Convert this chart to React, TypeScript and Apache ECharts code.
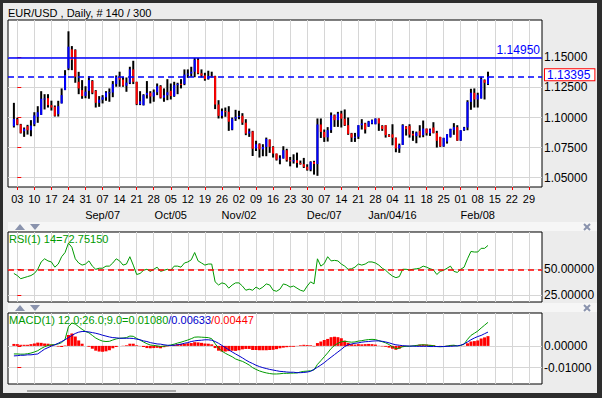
import React, { useEffect, useRef } from "react";
import * as echarts from "echarts";

// First bar is Fri Jul 31 2015; index 0 = Mon Aug 03 2015 (5 trading days per week)
const START_INDEX = -1;

const opens = [
  1.0928, 1.0986, 1.0942, 1.0886, 1.0928, 1.0894, 1.0944, 1.1006, 1.1022, 1.1150,
  1.1161, 1.1103, 1.1089, 1.1028, 1.1117, 1.1228, 1.1408, 1.1567, 1.1561, 1.1297,
  1.1228, 1.1180, 1.1222, 1.1303, 1.1222, 1.1122, 1.1148, 1.1168, 1.1208, 1.1208,
  1.1278, 1.1338, 1.1315, 1.1265, 1.1290, 1.1400, 1.1297, 1.1111, 1.1103, 1.1186,
  1.1205, 1.1175, 1.1210, 1.1260, 1.1165, 1.1185, 1.1222, 1.1178, 1.1269, 1.1280,
  1.1278, 1.1357, 1.1365, 1.1381, 1.1480, 1.1367, 1.1350, 1.1320, 1.1346, 1.1343,
  1.1108, 1.1014, 1.1053, 1.1048, 1.0900, 1.0990, 1.1005, 1.1014, 1.0957, 1.0867,
  1.0884, 1.0742, 1.0778, 1.0735, 1.0755, 1.0817, 1.0756, 1.0700, 1.0650, 1.0660,
  1.0728, 1.0645, 1.0635, 1.0645, 1.0622, 1.0612, 1.0590, 1.0566, 1.0631, 1.0613,
  1.0942, 1.0880, 1.0835, 1.0895, 1.1019, 1.0978, 1.1033, 1.0990, 1.0936, 1.0867,
  1.0833, 1.0840, 1.0936, 1.0950, 1.0925, 1.0950, 1.0944, 1.0992, 1.0930, 1.0936,
  1.0855, 1.0860, 1.0832, 1.0742, 1.0772, 1.0925, 1.0930, 1.0865, 1.0845, 1.0889,
  1.0853, 1.0908, 1.0869, 1.0917, 1.0872, 1.0839, 1.0760, 1.0800, 1.0839, 1.0895,
  1.0920, 1.0808, 1.0894, 1.0917, 1.1130, 1.1206, 1.1150, 1.1158, 1.1311, 1.1278,
];
const highs = [
  1.1122, 1.0997, 1.0947, 1.0917, 1.0939, 1.0978, 1.1044, 1.1094, 1.1219, 1.1194,
  1.1194, 1.1140, 1.1100, 1.1139, 1.1242, 1.1394, 1.1717, 1.1594, 1.1567, 1.1380,
  1.1311, 1.1260, 1.1344, 1.1311, 1.1228, 1.1178, 1.1186, 1.1219, 1.1242, 1.1303,
  1.1350, 1.1381, 1.1339, 1.1333, 1.1422, 1.1472, 1.1297, 1.1219, 1.1194, 1.1303,
  1.1219, 1.1233, 1.1283, 1.1269, 1.1242, 1.1319, 1.1283, 1.1297, 1.1289, 1.1319,
  1.1400, 1.1400, 1.1422, 1.1495, 1.1495, 1.1400, 1.1372, 1.1389, 1.1381, 1.1347,
  1.1144, 1.1075, 1.1083, 1.1094, 1.1000, 1.1064, 1.1056, 1.1036, 1.0986, 1.0908,
  1.0889, 1.0806, 1.0785, 1.0778, 1.0833, 1.0817, 1.0761, 1.0700, 1.0686, 1.0761,
  1.0740, 1.0672, 1.0694, 1.0708, 1.0642, 1.0664, 1.0611, 1.0636, 1.0640, 1.0992,
  1.0992, 1.0900, 1.0920, 1.1042, 1.1025, 1.1047, 1.1056, 1.1067, 1.1000, 1.0872,
  1.0872, 1.0936, 1.0986, 1.0956, 1.0972, 1.0983, 1.0992, 1.0992, 1.0936, 1.0936,
  1.0861, 1.0944, 1.0833, 1.0783, 1.0944, 1.0928, 1.0944, 1.0889, 1.0883, 1.0936,
  1.0975, 1.0908, 1.0908, 1.0961, 1.0889, 1.0839, 1.0831, 1.0861, 1.0906, 1.0953,
  1.0936, 1.0894, 1.0922, 1.1144, 1.1239, 1.1242, 1.1206, 1.1339, 1.1317, 1.1381,
];
const lows = [
  1.0917, 1.0936, 1.0867, 1.0839, 1.0858, 1.0844, 1.0928, 1.0956, 1.1022, 1.1067,
  1.1083, 1.1058, 1.1008, 1.1008, 1.1117, 1.1228, 1.1394, 1.1394, 1.1289, 1.1194,
  1.1156, 1.1160, 1.1156, 1.1194, 1.1083, 1.1089, 1.1117, 1.1139, 1.1131, 1.1169,
  1.1256, 1.1256, 1.1256, 1.1214, 1.1278, 1.1278, 1.1103, 1.1103, 1.1100, 1.1158,
  1.1117, 1.1131, 1.1186, 1.1158, 1.1131, 1.1144, 1.1150, 1.1172, 1.1194, 1.1242,
  1.1269, 1.1330, 1.1339, 1.1335, 1.1360, 1.1333, 1.1306, 1.1315, 1.1333, 1.1070,
  1.0992, 1.0992, 1.1006, 1.0889, 1.0894, 1.0972, 1.0986, 1.0939, 1.0853, 1.0839,
  1.0680, 1.0722, 1.0667, 1.0678, 1.0678, 1.0706, 1.0667, 1.0642, 1.0611, 1.0658,
  1.0633, 1.0594, 1.0617, 1.0583, 1.0608, 1.0580, 1.0558, 1.0553, 1.0525, 1.0515,
  1.0830, 1.0797, 1.0800, 1.0872, 1.0922, 1.0922, 1.0917, 1.0930, 1.0856, 1.0797,
  1.0797, 1.0822, 1.0900, 1.0867, 1.0922, 1.0944, 1.0944, 1.0889, 1.0889, 1.0833,
  1.0839, 1.0769, 1.0711, 1.0706, 1.0772, 1.0850, 1.0833, 1.0806, 1.0786, 1.0833,
  1.0836, 1.0850, 1.0847, 1.0868, 1.0750, 1.0756, 1.0756, 1.0783, 1.0833, 1.0856,
  1.0806, 1.0806, 1.0889, 1.0894, 1.1064, 1.1083, 1.1083, 1.1158, 1.1150, 1.1270,
];
const closes = [
  1.0989, 1.0942, 1.0872, 1.0906, 1.0894, 1.0933, 1.1017, 1.1044, 1.1156, 1.1158,
  1.1103, 1.1083, 1.1014, 1.1094, 1.1186, 1.1353, 1.1589, 1.1478, 1.1339, 1.1242,
  1.1178, 1.1215, 1.1311, 1.1206, 1.1122, 1.1148, 1.1168, 1.1208, 1.1210, 1.1278,
  1.1338, 1.1315, 1.1265, 1.1290, 1.1400, 1.1297, 1.1111, 1.1135, 1.1186, 1.1205,
  1.1175, 1.1210, 1.1260, 1.1165, 1.1185, 1.1210, 1.1178, 1.1269, 1.1280, 1.1278,
  1.1357, 1.1365, 1.1381, 1.1480, 1.1367, 1.1350, 1.1320, 1.1346, 1.1343, 1.1108,
  1.1014, 1.1053, 1.1048, 1.0965, 1.0990, 1.1005, 1.1014, 1.0957, 1.0867, 1.0884,
  1.0740, 1.0778, 1.0735, 1.0755, 1.0822, 1.0756, 1.0700, 1.0650, 1.0660, 1.0728,
  1.0645, 1.0635, 1.0645, 1.0622, 1.0612, 1.0590, 1.0566, 1.0631, 1.0613, 1.0942,
  1.0880, 1.0835, 1.0895, 1.1019, 1.0978, 1.1033, 1.0990, 1.0936, 1.0864, 1.0833,
  1.0840, 1.0936, 1.0950, 1.0900, 1.0967, 1.0978, 1.0992, 1.0950, 1.0905, 1.0853,
  1.0840, 1.0832, 1.0742, 1.0772, 1.0936, 1.0903, 1.0858, 1.0850, 1.0875, 1.0850,
  1.0908, 1.0869, 1.0900, 1.0872, 1.0806, 1.0760, 1.0831, 1.0861, 1.0906, 1.0920,
  1.0808, 1.0894, 1.0917, 1.1130, 1.1206, 1.1150, 1.1190, 1.1320, 1.1289, 1.13395,
];

const rsiValues = [
  46, 44, 41, 42, 43, 44, 46, 50, 57, 60,
  58, 57, 52, 55, 62, 66, 75, 71, 60, 56,
  54, 55, 58, 53, 50, 51, 51, 53, 53, 56,
  60, 58, 54, 55, 62, 54, 45, 46, 49, 50,
  48, 50, 52, 48, 49, 50, 49, 53, 53, 52,
  56, 57, 59, 66, 58, 56, 54, 55, 55, 38,
  35, 37, 36, 32, 35, 37, 37, 34, 30, 31,
  30, 33, 31, 33, 36, 35, 30, 29, 31, 36,
  35, 33, 34, 32, 30, 29, 34, 38, 36, 60,
  53, 55.5, 62, 58, 58.5, 58, 55, 53, 50, 50.5,
  52, 55, 54, 55, 57, 57, 56, 54, 51, 49,
  46, 43.5, 42, 43, 50, 50, 49.3, 50, 50.5, 51,
  53, 52, 50.5, 49.5, 45, 48, 49, 51, 53, 48,
  47, 50, 52, 60, 67, 66.5, 66.5, 70, 70, 72.7515,
];

const macdValues = [
  -0.0037, -0.0037, -0.0038, -0.0038, -0.0036, -0.0033, -0.0028, -0.0022, -0.0012, -0.0004,
  0.0002, 0.0005, 0.0006, 0.0009, 0.0015, 0.0030, 0.0088, 0.0105, 0.0100, 0.0088,
  0.0076, 0.0066, 0.0060, 0.0048, 0.0036, 0.0028, 0.0022, 0.0020, 0.0021, 0.0027,
  0.0032, 0.0035, 0.0036, 0.0038, 0.0045, 0.0044, 0.0034, 0.0027, 0.0018, 0.0010,
  0.0004, 0.0002, 0.0000, -0.0003, -0.0001, 0.0001, 0.0004, 0.0008, 0.0013, 0.0017,
  0.0022, 0.0027, 0.0033, 0.0040, 0.0041, 0.0040, 0.0039, 0.0038, 0.0033, 0.0010,
  -0.0010, -0.0024, -0.0034, -0.0042, -0.0050, -0.0060, -0.0066, -0.0071, -0.0079, -0.0088,
  -0.0100, -0.0108, -0.0115, -0.0120, -0.0124, -0.0127, -0.0129, -0.0129, -0.0128, -0.0126,
  -0.0126, -0.0125, -0.0125, -0.0124, -0.0120, -0.0117, -0.0116, -0.0114, -0.0110, -0.0085,
  -0.0068, -0.0050, -0.0032, -0.0012, 0.0002, 0.0012, 0.0019, 0.0021, 0.0019, 0.0017,
  0.0018, 0.0022, 0.0024, 0.0027, 0.0029, 0.0030, 0.0029, 0.0024, 0.0019, 0.0014,
  0.0006, -0.0004, -0.0013, -0.0010, -0.0004, -0.0002, -0.0002, 0.0000, 0.0002, 0.0004,
  0.0005, 0.0004, 0.0002, 0.0001, -0.0003, -0.0004, -0.0003, -0.0001, 0.0002, 0.0003,
  0.0000, 0.0002, 0.0008, 0.0030, 0.0048, 0.0058, 0.0068, 0.0082, 0.0095, 0.0108,
];

const signalValues = [
  -0.0046, -0.0045, -0.0043, -0.0043, -0.0041, -0.0041, -0.0039, -0.0037, -0.0026, -0.0015,
  -0.0008, -0.0001, 0.0005, 0.0012, 0.0020, 0.0028, 0.0038, 0.0048, 0.0057, 0.0063,
  0.0066, 0.0066, 0.0064, 0.0061, 0.0058, 0.0054, 0.0049, 0.0045, 0.0041, 0.0038,
  0.0037, 0.0035, 0.0035, 0.0035, 0.0035, 0.0034, 0.0031, 0.0028, 0.0023, 0.0020,
  0.0015, 0.0012, 0.0009, 0.0008, 0.0005, 0.0003, 0.0002, 0.0003, 0.0005, 0.0008,
  0.0012, 0.0015, 0.0020, 0.0023, 0.0025, 0.0026, 0.0028, 0.0028, 0.0026, 0.0020,
  0.0012, 0.0002, -0.0008, -0.0018, -0.0028, -0.0037, -0.0046, -0.0055, -0.0065, -0.0074,
  -0.0081, -0.0089, -0.0095, -0.0100, -0.0104, -0.0108, -0.0111, -0.0114, -0.0117, -0.0118,
  -0.0120, -0.0121, -0.0121, -0.0123, -0.0123, -0.0122, -0.0120, -0.0117, -0.0108, -0.0098,
  -0.0088, -0.0077, -0.0064, -0.0052, -0.0040, -0.0028, -0.0016, -0.0003, 0.0005, 0.0009,
  0.0012, 0.0014, 0.0017, 0.0019, 0.0020, 0.0022, 0.0023, 0.0023, 0.0021, 0.0018,
  0.0014, 0.0009, 0.0005, 0.0003, 0.0001, 0.0000, -0.0001, -0.0001, -0.0002, -0.0002,
  -0.0002, -0.0002, -0.0003, -0.0003, -0.0003, -0.0003, -0.0003, -0.0002, -0.0002, -0.0001,
  0.0000, 0.0003, 0.0009, 0.0018, 0.0028, 0.0036, 0.0043, 0.0048, 0.0056, 0.00633,
];

const weekLabels = [
  "03", "10", "17", "24", "31", "07", "14", "21", "28", "05", "12", "19", "26", "02", "09",
  "16", "23", "30", "07", "14", "21", "28", "04", "11", "18", "25", "01", "08", "15", "22", "29",
];
const monthWeeks = [5, 9, 13, 18, 22, 27];
const monthLabels = ["Sep/07", "Oct/05", "Nov/02", "Dec/07", "Jan/04/16", "Feb/08"];

const priceTicks = [1.05, 1.075, 1.1, 1.125, 1.15];
const rsiTicks = [25, 50];
const macdTicks = [-0.01, 0];

const resistanceLevel = 1.1495;
const lastClose = 1.13395;
const rsiLast = 72.7515;
const rsiMid = 50;
const macdLast = 0.0108;
const signalLast = 0.00633;
const histLast = 0.00447;

const DAYS_PER_WEEK = 5;
const X_MIN = -2.727;
const X_MAX = 153.84;

const FONT = "Liberation Sans";
const UP = "#0000ff";
const DOWN = "#ff0000";
const GRID_LINE = "#d6d6d6";
const GREEN = "#009a00";
const AXIS_FONT_SIZE = 12;

function App() {
  const ref = useRef<HTMLDivElement>(null);

  useEffect(() => {
    if (!ref.current) return;
    const chart = echarts.init(ref.current, undefined, { renderer: "svg" });

    const idxOf = (i: number) => START_INDEX + i;
    const candleData = opens.map((o, i) => [idxOf(i), o, closes[i], lows[i], highs[i]]);
    const rsiData = rsiValues.map((v, i) => [idxOf(i), v]);
    const macdData = macdValues.map((v, i) => [idxOf(i), v]);
    const signalData = signalValues.map((v, i) => [idxOf(i), v]);
    const histData = macdValues.map((v, i) => [idxOf(i), +(v - signalValues[i]).toFixed(5)]);
    const weekTickValues = weekLabels.map((_, k) => k * DAYS_PER_WEEK);

    const xLabel = (value: number) => {
      const k = Math.round(value / DAYS_PER_WEEK);
      if (Math.abs(value - k * DAYS_PER_WEEK) > 0.01 || k < 0 || k >= weekLabels.length) return "";
      const m = monthWeeks.indexOf(k);
      return m >= 0 ? `{w|${weekLabels[k]}}\n{m|${monthLabels[m]}}` : `{w|${weekLabels[k]}}`;
    };

    const baseX = (gridIndex: number, showLabels: boolean) => ({
      type: "value",
      gridIndex,
      min: X_MIN,
      max: X_MAX,
      minInterval: DAYS_PER_WEEK,
      maxInterval: DAYS_PER_WEEK,
      axisLine: { show: false },
      axisTick: {
        show: showLabels,
        customValues: weekTickValues,
        length: 3,
        lineStyle: { color: "#ff0000", width: 1 },
      },
      axisLabel: showLabels
        ? {
            show: true,
            customValues: weekTickValues,
            formatter: xLabel,
            margin: 4,
            fontFamily: FONT,
            color: "#000",
            rich: {
              w: { fontFamily: FONT, fontSize: 11, lineHeight: 16, color: "#000" },
              m: { fontFamily: FONT, fontSize: 11, lineHeight: 16, color: "#000" },
            },
          }
        : { show: false },
      splitLine: { show: true, lineStyle: { color: GRID_LINE, width: 1 } },
    });

    const baseY = (gridIndex: number, min: number, max: number, step: number, labelTicks: number[]) => ({
      type: "value",
      gridIndex,
      position: "right",
      min,
      max,
      minInterval: step,
      maxInterval: step,
      axisLine: { show: false },
      axisTick: {
        show: true,
        customValues: labelTicks,
        length: 4,
        lineStyle: { color: "#ff0000", width: 1 },
      },
      axisLabel: {
        customValues: labelTicks,
        formatter: (v: number) => v.toFixed(5),
        margin: 2,
        fontFamily: FONT,
        fontSize: AXIS_FONT_SIZE,
        lineHeight: 10,
        color: "#000",
      },
      splitLine: { show: true, lineStyle: { color: GRID_LINE, width: 1 } },
    });

    const boxLabel = (text: string, dy: number) => ({
      show: true,
      position: "end",
      formatter: text,
      distance: 3,
      offset: [0, dy],
      color: "#0000ff",
      fontFamily: FONT,
      fontSize: AXIS_FONT_SIZE,
      lineHeight: 11,
      backgroundColor: "#ffffff",
      borderColor: "#ff0000",
      borderWidth: 1,
      padding: [0, 4, 0, 2],
    });

    const option = {
      animation: false,
      backgroundColor: "#ececec",
      textStyle: { fontFamily: FONT },
      title: [
        {
          text: `EUR/USD , Daily, # ${opens.length} / 300`,
          left: 8,
          top: 7,
          padding: 0,
          textStyle: { fontFamily: FONT, fontSize: 11, fontWeight: "normal", color: "#000" },
        },
        {
          text: `RSI(1) 14=${rsiLast.toFixed(5)}`,
          left: 9,
          top: 233,
          padding: 0,
          textStyle: { fontFamily: FONT, fontSize: 11, fontWeight: "normal", color: GREEN },
        },
        {
          text: `{g|MACD(1) 12.0;26.0;9.0=${macdLast.toFixed(5)}}{b|/${signalLast.toFixed(5)}}{r|/${histLast.toFixed(5)}}`,
          left: 9,
          top: 314,
          padding: 0,
          textStyle: {
            fontFamily: FONT,
            fontSize: 11,
            fontWeight: "normal",
            rich: {
              g: { fontFamily: FONT, fontSize: 11, color: GREEN },
              b: { fontFamily: FONT, fontSize: 11, color: "#0000cc" },
              r: { fontFamily: FONT, fontSize: 11, color: "#ff0000" },
            },
          },
        },
      ],
      grid: [
        { left: 8, top: 20, width: 534, height: 167, show: true, backgroundColor: "#fff", borderColor: "#000", borderWidth: 1 },
        { left: 8, top: 232, width: 534, height: 70, show: true, backgroundColor: "#fff", borderColor: "#000", borderWidth: 1 },
        { left: 8, top: 313, width: 534, height: 71, show: true, backgroundColor: "#fff", borderColor: "#000", borderWidth: 1 },
      ],
      xAxis: [baseX(0, true), baseX(1, false), baseX(2, false)],
      yAxis: [
        baseY(0, 1.0422, 1.1811, 0.025, priceTicks),
        baseY(1, 18.75, 85.6, 25, rsiTicks),
        baseY(2, -0.0175, 0.0151, 0.01, macdTicks),
      ],
      series: [
        {
          type: "custom",
          name: "EUR/USD",
          xAxisIndex: 0,
          yAxisIndex: 0,
          data: candleData,
          encode: { x: 0, y: [1, 2, 3, 4] },
          clip: true,
          renderItem: (params: any, api: any) => {
            const x = api.value(0);
            const o = api.value(1);
            const c = api.value(2);
            const l = api.value(3);
            const h = api.value(4);
            const pTop = api.coord([x, h]);
            const pBot = api.coord([x, l]);
            const pO = api.coord([x, o]);
            const pC = api.coord([x, c]);
            const y0 = Math.min(pO[1], pC[1]);
            const hh = Math.max(1, Math.abs(pO[1] - pC[1]));
            return {
              type: "group",
              children: [
                {
                  type: "rect",
                  shape: { x: pTop[0] - 1, y: pTop[1], width: 2, height: Math.max(1, pBot[1] - pTop[1]) },
                  style: { fill: "#000" },
                },
                {
                  type: "rect",
                  shape: { x: pTop[0] - 1, y: y0, width: 2, height: hh },
                  style: { fill: c >= o ? UP : DOWN },
                },
              ],
            };
          },
          markLine: {
            silent: true,
            symbol: "none",
            precision: 5,
            data: [
              {
                yAxis: resistanceLevel,
                lineStyle: { color: "#0000ff", width: 1.5, type: "solid" },
                label: {
                  show: true,
                  position: "insideEndTop",
                  formatter: resistanceLevel.toFixed(5),
                  color: "#0000ff",
                  fontFamily: FONT,
                  fontSize: AXIS_FONT_SIZE,
                  distance: 2,
                },
              },
              {
                yAxis: lastClose,
                lineStyle: { color: "#0000ff", width: 1.5, type: [6, 4] },
                label: boxLabel(lastClose.toFixed(5), -2),
              },
            ],
          },
        },
        {
          type: "line",
          name: "RSI",
          xAxisIndex: 1,
          yAxisIndex: 1,
          data: rsiData,
          showSymbol: false,
          lineStyle: { color: GREEN, width: 1 },
          markLine: {
            silent: true,
            symbol: "none",
            precision: 5,
            data: [
              {
                yAxis: rsiMid,
                lineStyle: { color: "#ff0000", width: 1.5, type: [6, 4] },
                label: { show: false },
              },
              {
                yAxis: rsiLast,
                lineStyle: { opacity: 0 },
                label: boxLabel(rsiLast.toFixed(5), 0),
              },
            ],
          },
        },
        {
          type: "bar",
          name: "Histogram",
          xAxisIndex: 2,
          yAxisIndex: 2,
          data: histData,
          barWidth: 3,
          itemStyle: { color: "#ff0000" },
        },
        {
          type: "line",
          name: "MACD",
          xAxisIndex: 2,
          yAxisIndex: 2,
          data: macdData,
          showSymbol: false,
          lineStyle: { color: GREEN, width: 1 },
          markLine: {
            silent: true,
            symbol: "none",
            precision: 5,
            data: [
              {
                yAxis: macdLast,
                lineStyle: { opacity: 0 },
                label: boxLabel(macdLast.toFixed(5), 0),
              },
            ],
          },
        },
        {
          type: "line",
          name: "Signal",
          xAxisIndex: 2,
          yAxisIndex: 2,
          data: signalData,
          showSymbol: false,
          lineStyle: { color: "#0000cc", width: 1 },
        },
      ],
      graphic: [
        // window frame
        { type: "rect", shape: { x: 0, y: 0, width: 602, height: 3 }, style: { fill: "#2d2d2d" }, z: 100 },
        { type: "rect", shape: { x: 0, y: 0, width: 3, height: 398 }, style: { fill: "#2d2d2d" }, z: 100 },
        { type: "rect", shape: { x: 597, y: 0, width: 5, height: 398 }, style: { fill: "#2d2d2d" }, z: 100 },
        { type: "rect", shape: { x: 0, y: 393, width: 602, height: 5 }, style: { fill: "#2d2d2d" }, z: 100 },
        { type: "rect", shape: { x: 27, y: 390, width: 149, height: 2 }, style: { fill: "#a8a8a8" }, z: 100 },
        // panel separators
        { type: "rect", shape: { x: 8, y: 222, width: 589, height: 9 }, style: { fill: "#f6f6f6" }, z: -1 },
        { type: "rect", shape: { x: 8, y: 303, width: 589, height: 9 }, style: { fill: "#f6f6f6" }, z: -1 },
        { type: "polygon", shape: { points: [[15, 230], [25, 230], [20, 224]] }, style: { fill: "#8a93ad" } },
        { type: "polygon", shape: { points: [[30, 224], [40, 224], [35, 230]] }, style: { fill: "#8a93ad" } },
        { type: "polygon", shape: { points: [[15, 311], [25, 311], [20, 305]] }, style: { fill: "#8a93ad" } },
        { type: "polygon", shape: { points: [[30, 305], [40, 305], [35, 311]] }, style: { fill: "#8a93ad" } },
        { type: "line", shape: { x1: 584, y1: 224, x2: 590, y2: 230 }, style: { stroke: "#8a93ad", lineWidth: 2 } },
        { type: "line", shape: { x1: 590, y1: 224, x2: 584, y2: 230 }, style: { stroke: "#8a93ad", lineWidth: 2 } },
        { type: "line", shape: { x1: 584, y1: 305, x2: 590, y2: 311 }, style: { stroke: "#8a93ad", lineWidth: 2 } },
        { type: "line", shape: { x1: 590, y1: 305, x2: 584, y2: 311 }, style: { stroke: "#8a93ad", lineWidth: 2 } },
      ],
    };

    chart.setOption(option as any);
    return () => chart.dispose();
  }, []);

  return <div ref={ref} style={{ position: "fixed", left: 0, top: 0, width: 602, height: 398 }} />;
}

export default App;
